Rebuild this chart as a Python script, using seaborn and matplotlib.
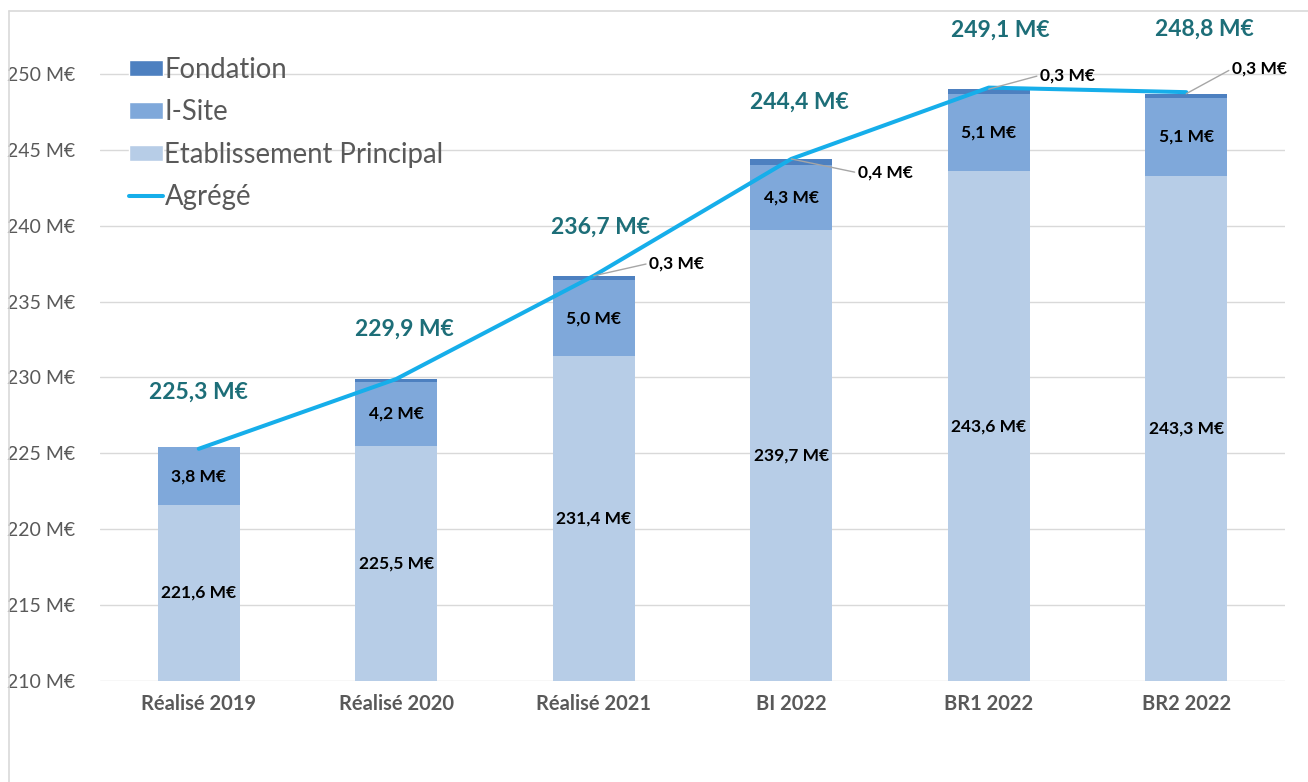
import numpy as np
import matplotlib
matplotlib.use("Agg")
import matplotlib.pyplot as plt
import seaborn as sns
from matplotlib.patches import Patch
from matplotlib.lines import Line2D

# Data
categories = ["Réalisé 2019", "Réalisé 2020", "Réalisé 2021", "BI 2022", "BR1 2022", "BR2 2022"]
etablissement = [221.6, 225.5, 231.4, 239.7, 243.6, 243.3]
isite = [3.8, 4.2, 5.0, 4.3, 5.1, 5.1]
fondation = [0.0, 0.2, 0.3, 0.4, 0.3, 0.3]
agrege = [225.3, 229.9, 236.7, 244.4, 249.1, 248.8]
show_fondation_label = [False, False, True, True, True, True]
yticks = [210, 215, 220, 225, 230, 235, 240, 245, 250]

# label placement (offset points)
total_offsets = [(0, 41), (6, 36), (5, 35), (6, 41), (8, 41), (13, 45)]
callout_offsets = [None, None, (40, 9), (48, -10), (37, 10), (33, 18)]

c_etab = "#B7CDE7"
c_isite = "#7FA8DA"
c_fond = "#4D80C0"
c_line = "#16AEEA"
c_total = "#1D6E78"
c_grey = "#595959"

sns.set_theme(style="white")
plt.rcParams["font.family"] = ["Lato", "DejaVu Sans"]

fig = plt.figure(figsize=(13.08, 7.82), dpi=100)
ax = fig.add_axes([100 / 1308, 101 / 782, 1185 / 1308, 637.4 / 782])

etab = np.array(etablissement)
cum_isite = etab + np.array(isite)
cum_fond = cum_isite + np.array(fondation)

bw = 0.415
# stacked bars: draw the tallest cumulative first
for vals, col in [(cum_fond, c_fond), (cum_isite, c_isite), (etab, c_etab)]:
    sns.barplot(x=categories, y=vals, color=col, saturation=1, width=bw,
                linewidth=0, ax=ax, zorder=2)

pos = np.arange(len(categories))
sns.lineplot(x=pos, y=agrege, color=c_line, linewidth=2.9, sort=False, ax=ax, zorder=4)

ax.set_ylim(210, 252)
ax.set_xlim(-0.5, len(categories) - 0.5)
ax.set_yticks(yticks)
ax.set_yticklabels([f"{v} M€" for v in yticks], color=c_grey, fontsize=14)
ax.set_xticks(pos)
ax.set_xticklabels(categories, color=c_grey, fontsize=14.5, fontweight="bold")
ax.tick_params(axis="x", pad=9, length=0)
ax.tick_params(axis="y", pad=18, length=0)
ax.set_xlabel("")
ax.set_ylabel("")
ax.yaxis.grid(True, color="#D9D9D9", linewidth=1)
ax.set_axisbelow(True)
for s in ax.spines.values():
    s.set_visible(False)


def fmt(v):
    return f"{v:.1f}".replace(".", ",") + " M€"


# segment labels
for i in pos:
    ax.text(i, (210 + etab[i]) / 2, fmt(etablissement[i]), ha="center", va="center",
            fontsize=12.5, fontweight="bold", color="black", zorder=5)
    ax.text(i, etab[i] + isite[i] / 2, fmt(isite[i]), ha="center", va="center",
            fontsize=12.5, fontweight="bold", color="black", zorder=5)
    if show_fondation_label[i]:
        ax.annotate(fmt(fondation[i]), xy=(i, cum_fond[i]), xytext=callout_offsets[i],
                    textcoords="offset points", ha="left", va="center",
                    fontsize=12.5, fontweight="bold", color="black", zorder=5,
                    arrowprops=dict(arrowstyle="-", color="#A6A6A6", lw=1,
                                    shrinkA=0, shrinkB=0, relpos=(0, 0.5)))
    ax.annotate(fmt(agrege[i]), xy=(i, agrege[i]), xytext=total_offsets[i],
                textcoords="offset points", ha="center", va="center",
                fontsize=16.5, fontweight="bold", color=c_total, zorder=5)

handles = [
    Patch(facecolor=c_fond, label="Fondation"),
    Patch(facecolor=c_isite, label="I-Site"),
    Patch(facecolor=c_etab, label="Etablissement Principal"),
    Line2D([], [], color=c_line, linewidth=2.9, label="Agrégé"),
]
ax.legend(handles=handles, loc="upper left", bbox_to_anchor=(115 / 1308, 1 - 43 / 782),
          bbox_transform=fig.transFigure, frameon=False, fontsize=19.8,
          labelcolor=c_grey, handlelength=1.25, handleheight=0.55, handletextpad=0.05,
          labelspacing=0.6, borderpad=0)

# thin chart-area border
fig.add_artist(Line2D([9 / 1308, 9 / 1308], [0, 1 - 11 / 782], color="#D9D9D9", lw=1.2,
                      transform=fig.transFigure))
fig.add_artist(Line2D([9 / 1308, 1], [1 - 11 / 782, 1 - 11 / 782], color="#D9D9D9", lw=1.2,
                      transform=fig.transFigure))

fig.savefig("out.png", dpi=100)
